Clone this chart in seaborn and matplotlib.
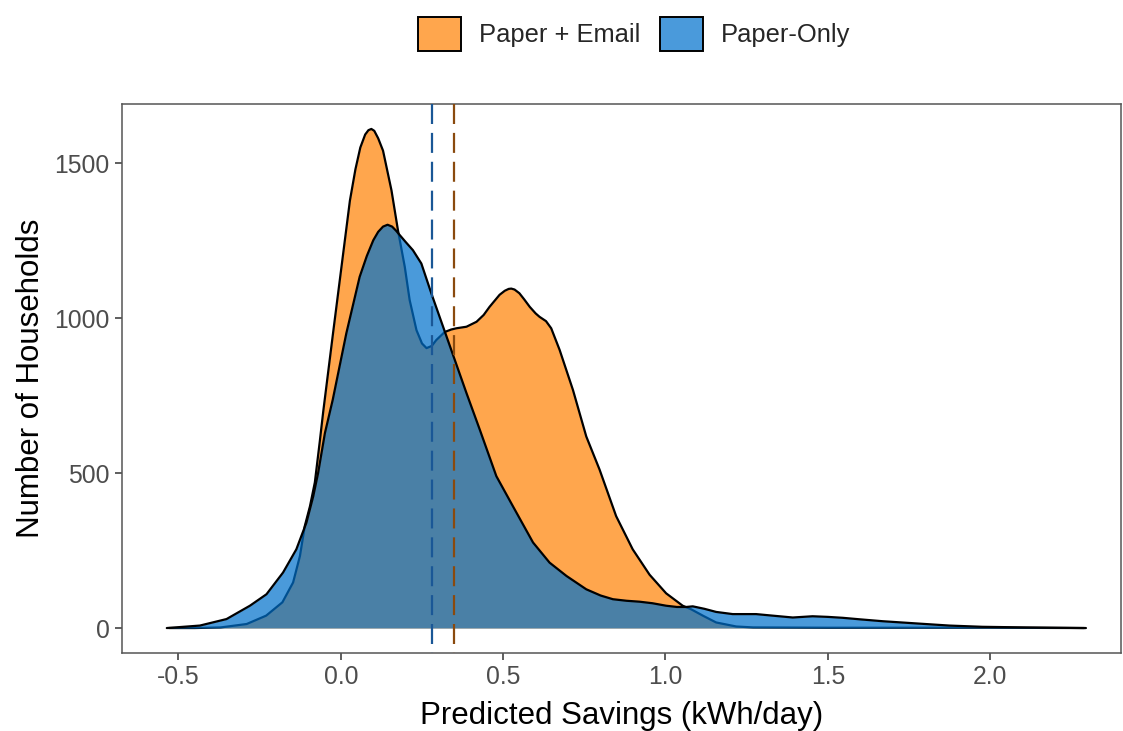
import numpy as np
import pandas as pd
import matplotlib
matplotlib.use("Agg")
import matplotlib.pyplot as plt
from matplotlib.patches import Patch
import seaborn as sns

# Smoothed household counts by predicted savings (kWh/day)
email_x = [-0.53, -0.45, -0.37, -0.29, -0.23, -0.18, -0.147, -0.126, -0.111, -0.095,
           -0.08, -0.065, -0.054, -0.024, 0.002, 0.028, 0.045, 0.06, 0.075, 0.085,
           0.094, 0.103, 0.115, 0.13, 0.156, 0.176, 0.197, 0.212, 0.233, 0.25,
           0.264, 0.28, 0.294, 0.32, 0.34, 0.356, 0.387, 0.418, 0.44, 0.458,
           0.489, 0.505, 0.517, 0.525, 0.535, 0.55, 0.565, 0.582, 0.6, 0.612,
           0.632, 0.648, 0.674, 0.715, 0.756, 0.797, 0.848, 0.899, 0.951, 1.002,
           1.053, 1.08, 1.115, 1.156, 1.218, 1.27, 1.5, 2.0, 2.29]
email_y = [0, 0, 2, 13, 40, 83, 147, 232, 329, 393,
           470, 600, 700, 951, 1165, 1379, 1480, 1550, 1592, 1606,
           1610, 1604, 1580, 1540, 1412, 1283, 1165, 1058, 961, 918,
           903, 910, 929, 955, 963, 967, 972, 988, 1010, 1036,
           1075, 1088, 1094, 1095, 1092, 1080, 1060, 1036, 1015, 1004,
           990, 967, 897, 768, 618, 511, 361, 254, 172, 112,
           72, 60, 40, 18, 5, 2, 1, 1, 0]

paper_x = [-0.536, -0.434, -0.352, -0.28, -0.229, -0.178, -0.137, -0.106, -0.085, -0.07,
           -0.049, -0.025, 0.017, 0.058, 0.08, 0.1, 0.115, 0.13, 0.144, 0.158,
           0.17, 0.182, 0.2, 0.222, 0.248, 0.279, 0.315, 0.351, 0.387, 0.428,
           0.479, 0.53, 0.592, 0.643, 0.695, 0.756, 0.8, 0.838, 0.88, 0.92,
           0.96, 1.002, 1.035, 1.064, 1.084, 1.12, 1.156, 1.207, 1.279, 1.33,
           1.392, 1.453, 1.5, 1.546, 1.6, 1.669, 1.771, 1.874, 1.976, 2.11,
           2.295]
paper_y = [0, 8, 29, 72, 109, 179, 254, 340, 425, 500,
           629, 736, 951, 1133, 1200, 1251, 1278, 1295, 1301, 1295,
           1282, 1267, 1245, 1219, 1176, 1079, 972, 865, 758, 640,
           490, 393, 276, 211, 168, 125, 105, 93, 88, 85,
           80, 72, 68, 68, 70, 62, 52, 45, 45, 40,
           34, 38, 36, 33, 28, 22, 15, 8, 4, 2,
           0]

# Group means
mean_email = 0.35
mean_paper = 0.28

groups = ["Paper + Email", "Paper-Only"]
x_ticks = [-0.5, 0.0, 0.5, 1.0, 1.5, 2.0]
y_ticks = [0, 500, 1000, 1500]

orange = "#FFA64D"
blue = "#0071CC"
blue_alpha = 0.71
vline_blue = "#1A5796"
vline_brown = "#8A4A0E"

sns.set_theme(style="white")
plt.rcParams["font.family"] = ["Liberation Sans", "DejaVu Sans"]

fig = plt.figure(figsize=(11.23, 7.31), dpi=100)
ax = fig.add_axes([122 / 1123, 1 - 653 / 731, 999 / 1123, (653 - 104) / 731])

email = pd.DataFrame({"x": email_x, "y": email_y})
paper = pd.DataFrame({"x": paper_x, "y": paper_y})

ax.fill_between(email["x"], 0, email["y"], color=orange, linewidth=0, zorder=1)
sns.lineplot(data=email, x="x", y="y", color="black", linewidth=1.6, ax=ax,
             sort=False, zorder=2)
ax.fill_between(paper["x"], 0, paper["y"], color=blue, alpha=blue_alpha,
                linewidth=0, zorder=3)
sns.lineplot(data=paper, x="x", y="y", color="black", linewidth=1.6, ax=ax,
             sort=False, zorder=4)

# Mean markers spanning the full panel height, drawn top-down
for m, c in [(mean_paper, vline_blue), (mean_email, vline_brown)]:
    ax.plot([m, m], [1, 0], transform=ax.get_xaxis_transform(), color=c,
            linewidth=1.6, dashes=(9, 4), zorder=5, clip_on=False)

ax.set_xlim(-0.674, 2.403)
ymax = 1610
ax.set_ylim(-ymax * 0.05, ymax * 1.05)

ax.set_xticks(x_ticks)
ax.set_xticklabels([f"{t:.1f}" for t in x_ticks])
ax.set_yticks(y_ticks)
ax.set_yticklabels([str(t) for t in y_ticks])
ax.tick_params(axis="both", which="both", length=5, width=1.1, color="#333333",
               labelsize=17.8, labelcolor="#4D4D4D", pad=4, direction="out",
               bottom=True, left=True)

for side in ["top", "right", "bottom", "left"]:
    ax.spines[side].set_visible(True)
    ax.spines[side].set_color("#555555")
    ax.spines[side].set_linewidth(1.1)

ax.set_xlabel("Predicted Savings (kWh/day)", fontsize=22.5, color="black", labelpad=8)
ax.set_ylabel("Number of Households", fontsize=22.5, color="black", labelpad=6)
ax.grid(False)

handles = [
    Patch(facecolor=orange, edgecolor="black", linewidth=1.4),
    Patch(facecolor="#4A9ADB", edgecolor="black", linewidth=1.4),
]
leg = fig.legend(handles, groups, loc="center", bbox_to_anchor=(634 / 1123, 1 - 34 / 731),
                 ncol=2, frameon=False, fontsize=18.4, handlelength=1.7, handleheight=1.7,
                 handletextpad=0.7, columnspacing=0.75, borderaxespad=0)

fig.savefig("out.png", dpi=100)
